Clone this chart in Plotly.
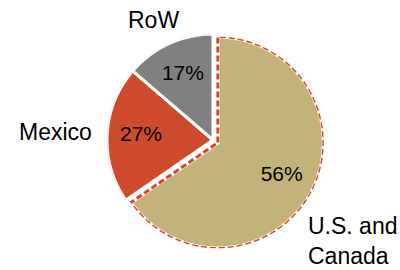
import numpy as np
import plotly.graph_objects as go

# ---- data ----
regions = ["U.S. and Canada", "Mexico", "RoW"]
slice_share = [65.4, 20.9, 13.7]          # visual share of the circle (%)
pct_labels = ["56%", "27%", "17%"]        # labels printed in the slices
name_labels = ["U.S. and<br>Canada", "Mexico", "RoW"]
colors = ["#C3B37A", "#CE4A2D", "#808080"]

# ---- geometry derived from data ----
widths = [s * 3.6 for s in slice_share]
starts = np.concatenate([[0], np.cumsum(widths)[:-1]])
mids = [s + w / 2 for s, w in zip(starts, widths)]

W, H = 400, 270
R = 106            # pie radius, px
cx, cy = 213, 140  # pie centre, px (from top)
pull_px = 5.5


def dom(cxp, cyp):
    return dict(x=[(cxp - R) / W, (cxp + R) / W],
                y=[(H - cyp - R) / H, (H - cyp + R) / H])


pull_ang = np.deg2rad(mids[0])
tcx = cx + pull_px * np.sin(pull_ang)
tcy = cy - pull_px * np.cos(pull_ang)

fig = go.Figure()

# gray + red slices
fig.add_trace(go.Barpolar(
    r=[1, 1], theta=mids[1:], width=widths[1:], base=0,
    marker=dict(color=colors[1:], line=dict(color="white", width=3)),
    subplot="polar", hoverinfo="skip", showlegend=False))
fig.add_trace(go.Scatterpolar(
    r=[0.68, 0.68], theta=mids[1:], mode="text", text=pct_labels[1:],
    textfont=dict(family="Liberation Sans, Arial", size=21, color="black"),
    subplot="polar", cliponaxis=False, hoverinfo="skip", showlegend=False))

# tan slice (pulled out) with dashed outline
fig.add_trace(go.Barpolar(
    r=[1], theta=[mids[0]], width=[widths[0]], base=0,
    marker=dict(color=colors[0], line=dict(color="white", width=4)),
    subplot="polar2", hoverinfo="skip", showlegend=False))
arc = np.linspace(starts[0], starts[0] + widths[0], 200)
fig.add_trace(go.Scatterpolar(
    r=np.concatenate([[0], np.ones_like(arc), [0]]),
    theta=np.concatenate([[starts[0]], arc, [starts[0] + widths[0]]]),
    mode="lines", line=dict(color="#D64528", width=3, dash="6px,3px"),
    subplot="polar2", cliponaxis=False, hoverinfo="skip", showlegend=False))
fig.add_trace(go.Scatterpolar(
    r=[0.68], theta=[mids[0]], mode="text", text=[pct_labels[0]],
    textfont=dict(family="Liberation Sans, Arial", size=21, color="black"),
    subplot="polar2", cliponaxis=False, hoverinfo="skip", showlegend=False))

axis_off = dict(visible=False, showgrid=False, showline=False,
                showticklabels=False, ticks="")
polar_common = dict(
    bgcolor="rgba(0,0,0,0)", hole=0,
    angularaxis=dict(direction="clockwise", rotation=90, **axis_off),
    radialaxis=dict(range=[0, 1], **axis_off))

fig.update_layout(
    width=W, height=H, margin=dict(l=0, r=0, t=0, b=0),
    paper_bgcolor="white", plot_bgcolor="white", showlegend=False,
    polar=dict(domain=dom(cx, cy), **polar_common),
    polar2=dict(domain=dom(tcx, tcy), **polar_common),
    font=dict(family="Liberation Sans, Arial", size=23, color="black"),
    annotations=[
        dict(text=name_labels[2], x=153 / W, y=1 - 20 / H, xref="paper",
             yref="paper", showarrow=False, xanchor="center", yanchor="middle"),
        dict(text=name_labels[1], x=55 / W, y=1 - 132 / H, xref="paper",
             yref="paper", showarrow=False, xanchor="center", yanchor="middle"),
        dict(text=name_labels[0], x=306 / W, y=1 - 241 / H, xref="paper",
             yref="paper", showarrow=False, xanchor="left", yanchor="middle",
             align="left"),
    ],
)

fig.write_html("out.html",
               config={"displayModeBar": False},
               post_script="document.body.style.margin='0';"
                           "document.body.style.padding='0';")
